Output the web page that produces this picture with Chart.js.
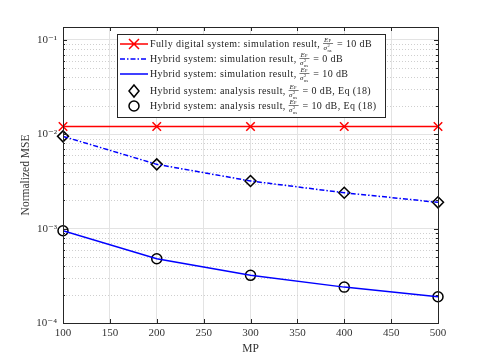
<!DOCTYPE html>
<html>
<head>
<meta charset="utf-8">
<script src="https://cdn.jsdelivr.net/npm/chart.js@4.4.0/dist/chart.umd.min.js"></script>
<style>
  html, body { margin: 0; padding: 0; background: #fff; }
  #wrap { width: 485px; height: 363px; }
</style>
</head>
<body>
<div id="wrap"><canvas id="mse-chart" width="485" height="363"></canvas></div>
<script>
const mpValues = [100, 200, 300, 400, 500];
const fullyDigital10dB = [0.0121, 0.0121, 0.0121, 0.0121, 0.0121];
const hybridSim0dB = [0.0095, 0.0048, 0.0032, 0.0024, 0.0019];
const hybridSim10dB = [0.00095, 0.00048, 0.00032, 0.00024, 0.00019];
const hybridAna0dB = [0.0095, 0.0048, 0.0032, 0.0024, 0.0019];
const hybridAna10dB = [0.00095, 0.00048, 0.00032, 0.00024, 0.00019];
const yDecades = [1e-4, 1e-3, 1e-2, 1e-1];
const yDecadeLabels = ["10\u207B\u2074", "10\u207B\u00B3", "10\u207B\u00B2", "10\u207B\u00B9"];

const SERIF = '"Liberation Serif", "DejaVu Serif", serif';
const AXIS_COLOR = "#262626";

function points(values) {
  return mpValues.map((x, i) => ({ x, y: values[i] }));
}

function isDecade(v) {
  const l = Math.log10(v);
  return Math.abs(l - Math.round(l)) < 1e-9;
}

// minor grid, box and inward ticks (MATLAB look)
const boxPlugin = {
  id: "box",
  beforeDatasetsDraw(chart) {
    const { ctx, chartArea: a, scales } = chart;
    const y = scales.y;
    ctx.save();
    ctx.strokeStyle = "#cfcfcf";
    ctx.lineWidth = 1;
    ctx.setLineDash([1, 2]);
    for (let d = 1e-4; d < 1; d *= 10) {
      for (let k = 2; k <= 9; k++) {
        const v = k * d;
        if (v > y.max) break;
        const py = Math.round(y.getPixelForValue(v)) + 0.5;
        ctx.beginPath();
        ctx.moveTo(a.left, py);
        ctx.lineTo(a.right, py);
        ctx.stroke();
      }
    }
    ctx.restore();
  },
  afterDatasetsDraw(chart) {
    const { ctx, chartArea: a, scales } = chart;
    const x = scales.x;
    const y = scales.y;
    ctx.save();
    ctx.strokeStyle = AXIS_COLOR;
    ctx.lineWidth = 1;
    ctx.strokeRect(Math.round(a.left) + 0.5, Math.round(a.top) + 0.5,
      Math.round(a.right - a.left), Math.round(a.bottom - a.top));
    ctx.beginPath();
    for (let v = 100; v <= 500; v += 50) {
      const px = Math.round(x.getPixelForValue(v)) + 0.5;
      ctx.moveTo(px, a.bottom); ctx.lineTo(px, a.bottom - 4);
      ctx.moveTo(px, a.top); ctx.lineTo(px, a.top + 4);
    }
    for (let d = 1e-4; d < 1; d *= 10) {
      for (let k = 1; k <= 9; k++) {
        const v = k * d;
        if (v > y.max) break;
        const py = Math.round(y.getPixelForValue(v)) + 0.5;
        const len = k === 1 ? 4 : 2;
        ctx.moveTo(a.left, py); ctx.lineTo(a.left + len, py);
        ctx.moveTo(a.right, py); ctx.lineTo(a.right - len, py);
      }
    }
    ctx.stroke();
    ctx.restore();
  },
};

// Ep / sigma^2_ns drawn as a small stacked fraction
function drawFraction(ctx, x, y) {
  ctx.save();
  ctx.fillStyle = "#222";
  ctx.textAlign = "left";
  ctx.textBaseline = "alphabetic";
  ctx.font = "italic 7px " + SERIF;
  ctx.fillText("E", x + 1, y - 1.5);
  ctx.font = "4.5px " + SERIF;
  ctx.fillText("P", x + 5.5, y - 0.8);
  ctx.font = "italic 7px " + SERIF;
  ctx.fillText("\u03C3", x + 0.5, y + 6.5);
  ctx.font = "4.5px " + SERIF;
  ctx.fillText("2", x + 4.5, y + 3.8);
  ctx.fillText("ns", x + 4.5, y + 8.5);
  ctx.strokeStyle = "#222";
  ctx.lineWidth = 0.6;
  ctx.beginPath();
  ctx.moveTo(x, y + 0.5);
  ctx.lineTo(x + 10, y + 0.5);
  ctx.stroke();
  ctx.restore();
  return 11;
}

const legendRows = [
  { pre: "Fully digital system: simulation result, ", post: " = 10 dB", kind: "cross" },
  { pre: "Hybrid system: simulation result, ", post: " = 0 dB", kind: "dashdot" },
  { pre: "Hybrid system: simulation result, ", post: " = 10 dB", kind: "solid" },
  { pre: "Hybrid system: analysis result, ", post: " = 0 dB, Eq (18)", kind: "diamond" },
  { pre: "Hybrid system: analysis result, ", post: " = 10 dB, Eq (18)", kind: "circle" },
];
const legendRowY = [44, 59, 74, 91, 106];

const legendPlugin = {
  id: "mseLegend",
  afterDraw(chart) {
    const { ctx } = chart;
    const bx = 117, by = 34, bw = 268, bh = 83;
    ctx.save();
    ctx.fillStyle = "#fff";
    ctx.fillRect(bx, by, bw, bh);
    ctx.strokeStyle = AXIS_COLOR;
    ctx.lineWidth = 1;
    ctx.strokeRect(bx + 0.5, by + 0.5, bw, bh);
    legendRows.forEach((row, i) => {
      const ry = legendRowY[i];
      const x0 = 120, x1 = 148, mx = 134;
      ctx.setLineDash([]);
      if (row.kind === "cross") {
        ctx.strokeStyle = "#ff0000";
        ctx.lineWidth = 1.5;
        ctx.beginPath();
        ctx.moveTo(x0, ry); ctx.lineTo(x1, ry);
        ctx.moveTo(mx - 5, ry - 5); ctx.lineTo(mx + 5, ry + 5);
        ctx.moveTo(mx + 5, ry - 5); ctx.lineTo(mx - 5, ry + 5);
        ctx.stroke();
      } else if (row.kind === "dashdot" || row.kind === "solid") {
        ctx.strokeStyle = "#0000ff";
        ctx.lineWidth = 1.5;
        if (row.kind === "dashdot") ctx.setLineDash([5, 2, 1.5, 2]);
        ctx.beginPath();
        ctx.moveTo(x0, ry); ctx.lineTo(x1, ry);
        ctx.stroke();
        ctx.setLineDash([]);
      } else if (row.kind === "diamond") {
        ctx.strokeStyle = "#000";
        ctx.lineWidth = 1.5;
        ctx.beginPath();
        ctx.moveTo(mx, ry - 6); ctx.lineTo(mx + 5, ry); ctx.lineTo(mx, ry + 6); ctx.lineTo(mx - 5, ry);
        ctx.closePath();
        ctx.stroke();
      } else {
        ctx.strokeStyle = "#000";
        ctx.lineWidth = 1.5;
        ctx.beginPath();
        ctx.arc(mx, ry, 5, 0, Math.PI * 2);
        ctx.stroke();
      }
      ctx.fillStyle = "#222";
      ctx.font = "10px " + SERIF;
      ctx.letterSpacing = "0.4px";
      ctx.textBaseline = "middle";
      ctx.textAlign = "left";
      let tx = 150;
      ctx.fillText(row.pre, tx, ry);
      tx += ctx.measureText(row.pre).width;
      ctx.letterSpacing = "0px";
      tx += drawFraction(ctx, tx, ry - 1);
      ctx.fillStyle = "#222";
      ctx.font = "10px " + SERIF;
      ctx.letterSpacing = "0.4px";
      ctx.textBaseline = "middle";
      ctx.textAlign = "left";
      ctx.fillText(row.post, tx, ry);
      ctx.letterSpacing = "0px";
    });
    ctx.restore();
  },
};

const ctx = document.getElementById("mse-chart").getContext("2d");
new Chart(ctx, {
  type: "line",
  data: {
    datasets: [
      {
        label: "Fully digital system: simulation result, 10 dB",
        data: points(fullyDigital10dB),
        borderColor: "#ff0000",
        backgroundColor: "#ff0000",
        borderWidth: 1.5,
        pointStyle: "crossRot",
        pointRadius: 6,
        pointBorderWidth: 1.5,
        clip: false,
      },
      {
        label: "Hybrid system: simulation result, 0 dB",
        data: points(hybridSim0dB),
        borderColor: "#0000ff",
        borderWidth: 1.5,
        borderDash: [5, 2, 1.5, 2],
        pointRadius: 0,
      },
      {
        label: "Hybrid system: simulation result, 10 dB",
        data: points(hybridSim10dB),
        borderColor: "#0000ff",
        borderWidth: 1.5,
        pointRadius: 0,
      },
      {
        label: "Hybrid system: analysis result, 0 dB, Eq (18)",
        data: points(hybridAna0dB),
        showLine: false,
        pointStyle: "rectRot",
        pointRadius: 5.5,
        pointBorderWidth: 1.5,
        pointBorderColor: "#000",
        pointBackgroundColor: "rgba(0,0,0,0)",
        clip: false,
      },
      {
        label: "Hybrid system: analysis result, 10 dB, Eq (18)",
        data: points(hybridAna10dB),
        showLine: false,
        pointStyle: "circle",
        pointRadius: 5,
        pointBorderWidth: 1.5,
        pointBorderColor: "#000",
        pointBackgroundColor: "rgba(0,0,0,0)",
        clip: false,
      },
    ],
  },
  options: {
    responsive: false,
    animation: false,
    layout: { padding: { left: 0, right: 47, top: 27, bottom: 0 } },
    plugins: {
      legend: { display: false },
      tooltip: { enabled: false },
    },
    scales: {
      x: {
        type: "linear",
        min: 100,
        max: 500,
        afterFit: (s) => { s.height = 40; },
        ticks: { stepSize: 50, color: "#333", padding: 4, font: { family: SERIF, size: 11 } },
        grid: { color: "#e3e3e3", drawTicks: false },
        border: { color: AXIS_COLOR },
        title: {
          display: true,
          text: "MP",
          color: "#333",
          padding: { top: 2, bottom: 7 },
          font: { family: SERIF, size: 11.5 },
        },
      },
      y: {
        type: "logarithmic",
        min: 1e-4,
        max: 0.137,
        afterFit: (s) => { s.width = 63; },
        afterBuildTicks: (s) => { s.ticks = yDecades.map((v) => ({ value: v })); },
        ticks: {
          autoSkip: false,
          color: "#333",
          padding: 6,
          font: { family: SERIF, size: 11 },
          callback: (v) => {
            const i = yDecades.findIndex((d) => Math.abs(d - v) / d < 1e-6);
            return i >= 0 ? yDecadeLabels[i] : "";
          },
        },
        grid: {
          drawTicks: false,
          color: (c) => (c.tick && isDecade(c.tick.value) ? "#e3e3e3" : "rgba(0,0,0,0)"),
        },
        border: { color: AXIS_COLOR },
        title: {
          display: true,
          text: "Normalized MSE",
          color: "#333",
          padding: { top: 19, bottom: 0 },
          font: { family: SERIF, size: 11.5 },
        },
      },
    },
  },
  plugins: [boxPlugin, legendPlugin],
});
</script>
</body>
</html>
